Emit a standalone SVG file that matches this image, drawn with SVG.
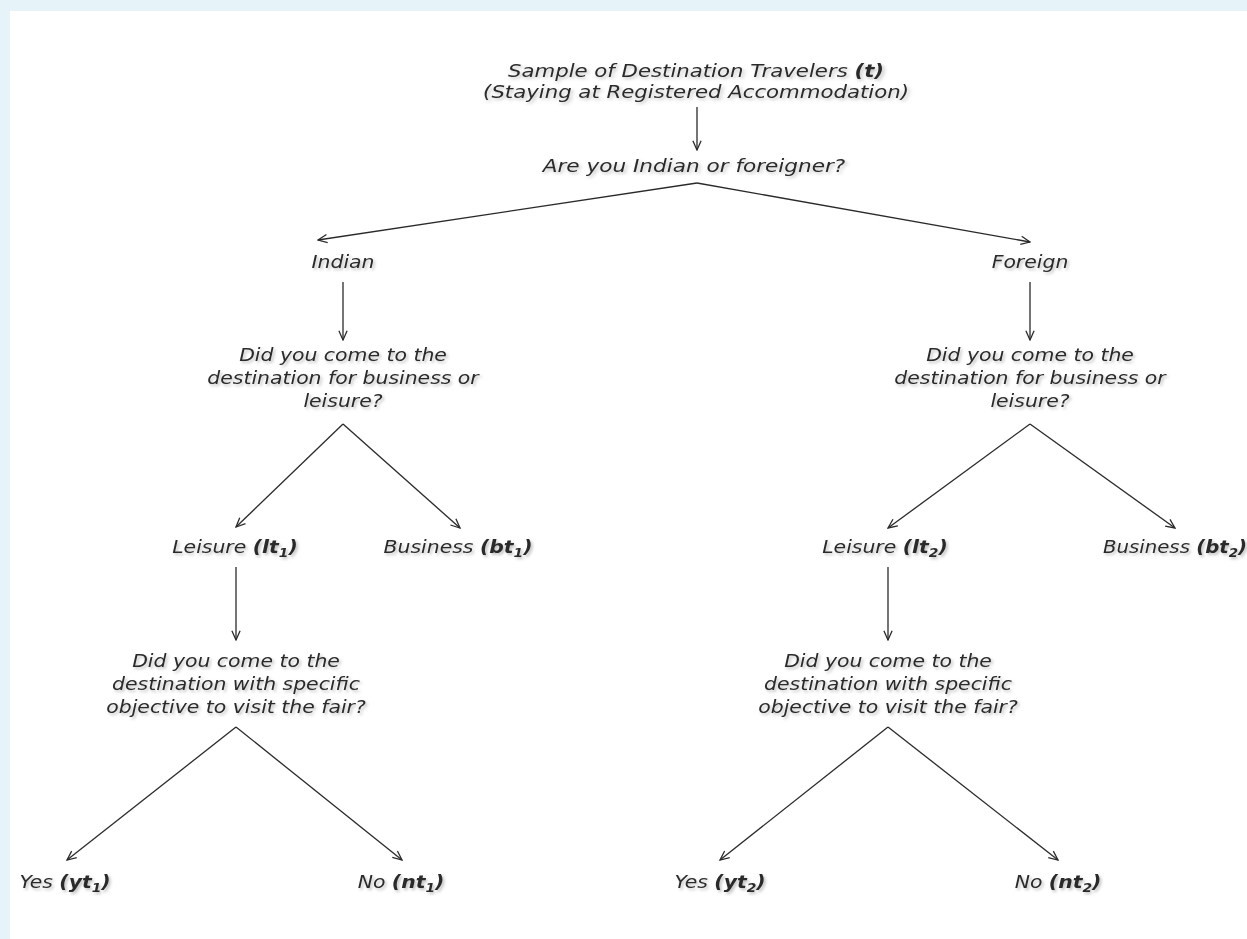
<svg xmlns="http://www.w3.org/2000/svg" width="1247" height="939" viewBox="0 0 1247 939">
<defs>
<marker id="arr" viewBox="0 0 12 12" refX="11" refY="6" markerWidth="11" markerHeight="11" markerUnits="userSpaceOnUse" orient="auto">
<path d="M1,1.5 L11,6 L1,10.5" fill="none" stroke="#2a2a2a" stroke-width="1.4"/>
</marker>
<filter id="sh" x="-10%" y="-30%" width="120%" height="160%">
<feDropShadow dx="1.5" dy="2" stdDeviation="1.5" flood-color="#000" flood-opacity="0.25"/>
</filter>
</defs>
<style>
text{font-family:"DejaVu Sans","Verdana",sans-serif;font-style:italic;font-size:17px;fill:#2a2a2a;text-anchor:middle;filter:url(#sh)}
.b{font-weight:bold}
.s{font-weight:bold;font-size:11.5px}
.c line{stroke:#2a2a2a;stroke-width:1.3;fill:none;marker-end:url(#arr)}
</style>
<rect width="1247" height="939" fill="#e6f3f8"/>
<rect x="10" y="11" width="1237" height="928" fill="#ffffff"/>

<g id="root">
<text transform="translate(696,77) scale(1.25,1)">Sample of Destination Travelers <tspan class="b">(t)</tspan></text>
<text transform="translate(696,98) scale(1.25,1)">(Staying at Registered Accommodation)</text>
</g>
<g id="q1"><text transform="translate(694,172) scale(1.27,1)">Are you Indian or foreigner?</text></g>
<g id="indian"><text transform="translate(343,268) scale(1.2,1)">Indian</text></g>
<g id="foreign"><text transform="translate(1030,268) scale(1.2,1)">Foreign</text></g>
<g id="q2a">
<text transform="translate(343,361) scale(1.2,1)">Did you come to the</text>
<text transform="translate(343,384) scale(1.2,1)">destination for business or</text>
<text transform="translate(343,407) scale(1.2,1)">leisure?</text>
</g>
<g id="q2b">
<text transform="translate(1030,361) scale(1.2,1)">Did you come to the</text>
<text transform="translate(1030,384) scale(1.2,1)">destination for business or</text>
<text transform="translate(1030,407) scale(1.2,1)">leisure?</text>
</g>
<g id="lt1"><text transform="translate(235,553) scale(1.2,1)">Leisure <tspan class="b">(lt</tspan><tspan class="s" dy="4">1</tspan><tspan class="b" dy="-4">)</tspan></text></g>
<g id="bt1"><text transform="translate(458,553) scale(1.2,1)">Business <tspan class="b">(bt</tspan><tspan class="s" dy="4">1</tspan><tspan class="b" dy="-4">)</tspan></text></g>
<g id="lt2"><text transform="translate(885,553) scale(1.2,1)">Leisure <tspan class="b">(lt</tspan><tspan class="s" dy="4">2</tspan><tspan class="b" dy="-4">)</tspan></text></g>
<g id="bt2"><text transform="translate(1175,553) scale(1.16,1)">Business <tspan class="b">(bt</tspan><tspan class="s" dy="4">2</tspan><tspan class="b" dy="-4">)</tspan></text></g>
<g id="q3a">
<text transform="translate(236,667) scale(1.2,1)">Did you come to the</text>
<text transform="translate(236,690) scale(1.2,1)">destination with specific</text>
<text transform="translate(236,713) scale(1.2,1)">objective to visit the fair?</text>
</g>
<g id="q3b">
<text transform="translate(888,667) scale(1.2,1)">Did you come to the</text>
<text transform="translate(888,690) scale(1.2,1)">destination with specific</text>
<text transform="translate(888,713) scale(1.2,1)">objective to visit the fair?</text>
</g>
<g id="yt1"><text transform="translate(65,888) scale(1.2,1)">Yes <tspan class="b">(yt</tspan><tspan class="s" dy="4">1</tspan><tspan class="b" dy="-4">)</tspan></text></g>
<g id="nt1"><text transform="translate(401,888) scale(1.2,1)">No <tspan class="b">(nt</tspan><tspan class="s" dy="4">1</tspan><tspan class="b" dy="-4">)</tspan></text></g>
<g id="yt2"><text transform="translate(720,888) scale(1.2,1)">Yes <tspan class="b">(yt</tspan><tspan class="s" dy="4">2</tspan><tspan class="b" dy="-4">)</tspan></text></g>
<g id="nt2"><text transform="translate(1058,888) scale(1.2,1)">No <tspan class="b">(nt</tspan><tspan class="s" dy="4">2</tspan><tspan class="b" dy="-4">)</tspan></text></g>

<g id="connectors" class="c">
<line x1="697" y1="107" x2="697" y2="150"/>
<line x1="697" y1="183" x2="318" y2="240"/>
<line x1="697" y1="183" x2="1030" y2="242"/>
<line x1="343" y1="282" x2="343" y2="340"/>
<line x1="1030" y1="282" x2="1030" y2="340"/>
<line x1="343" y1="424" x2="236" y2="527"/>
<line x1="343" y1="424" x2="460" y2="528"/>
<line x1="1030" y1="424" x2="888" y2="528"/>
<line x1="1030" y1="424" x2="1175" y2="528"/>
<line x1="236" y1="567" x2="236" y2="640"/>
<line x1="888" y1="567" x2="888" y2="640"/>
<line x1="236" y1="727" x2="67" y2="860"/>
<line x1="236" y1="727" x2="402" y2="860"/>
<line x1="888" y1="727" x2="720" y2="860"/>
<line x1="888" y1="727" x2="1058" y2="860"/>
</g>
</svg>
